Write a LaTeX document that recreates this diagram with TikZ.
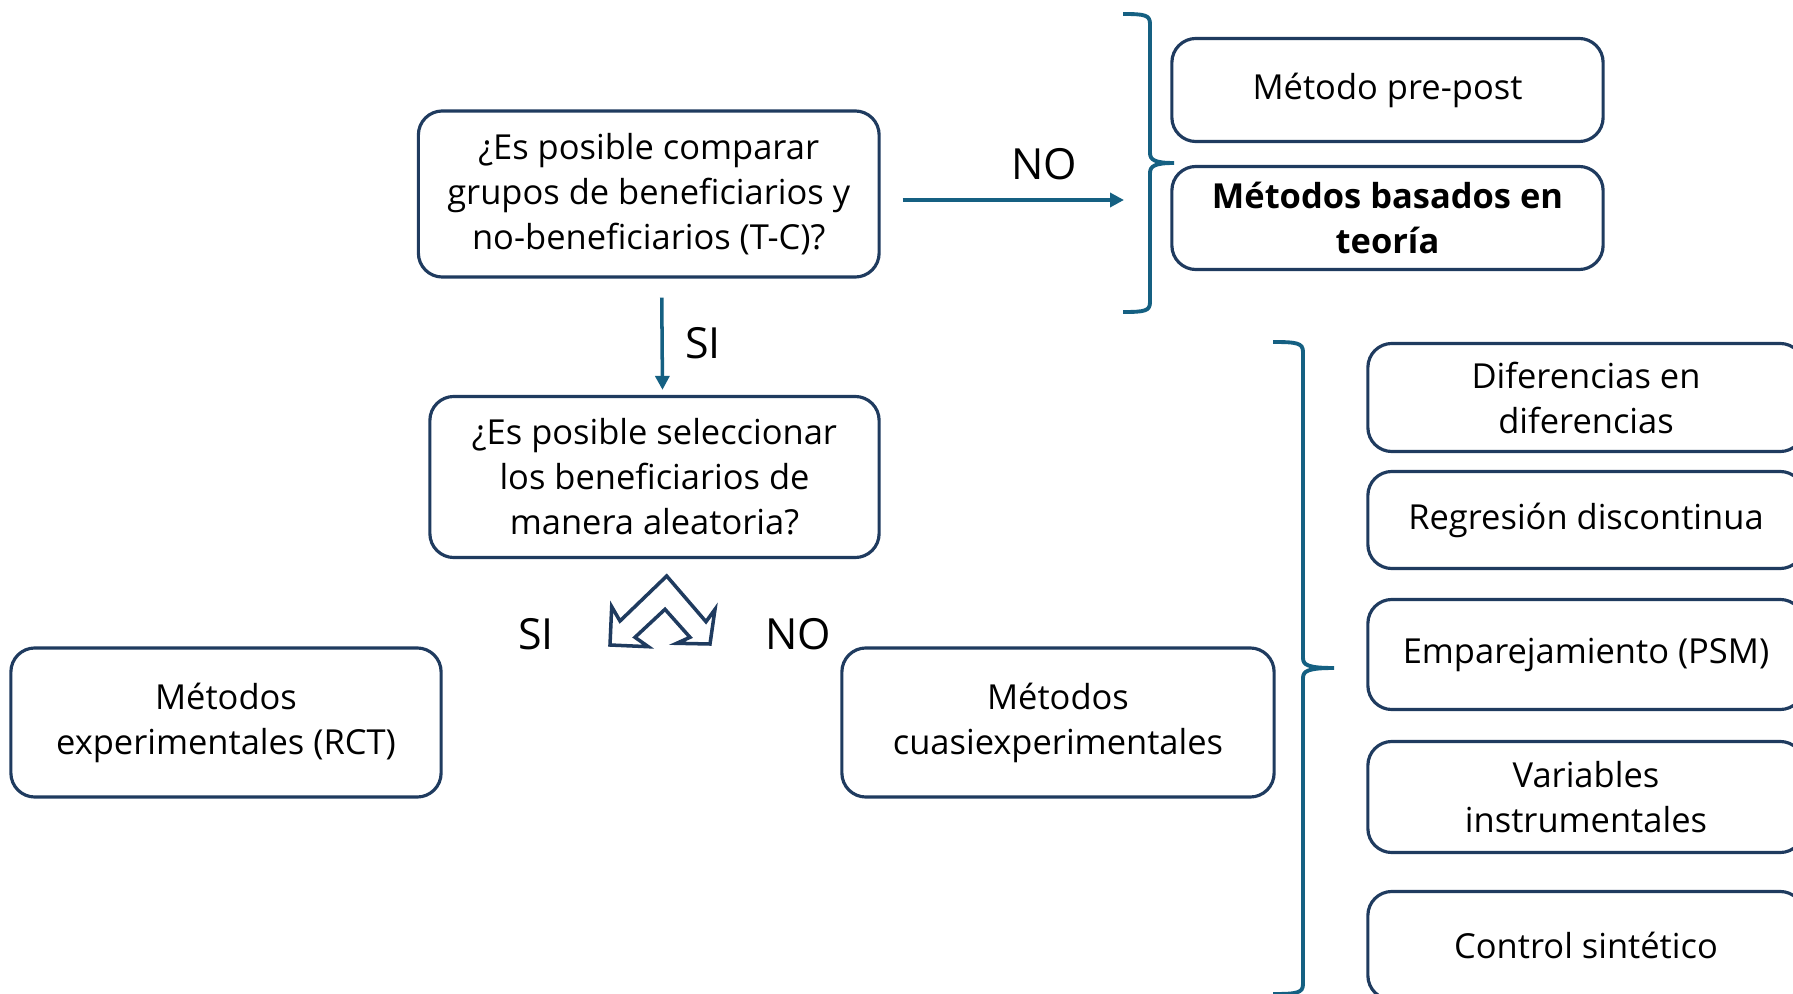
\documentclass[tikz,border=0pt]{standalone}
\usepackage{fontspec}
\setmainfont{Open Sans}
\usetikzlibrary{arrows.meta}
\definecolor{boxblue}{HTML}{1F3B5F}
\definecolor{arrblue}{HTML}{156082}
\begin{document}
\begin{tikzpicture}[x=0.01cm, y=-0.01cm]
\tikzstyle{box}=[draw=boxblue, line width=0.9pt, rounded corners=0.24cm, fill=white,
                 align=center, inner sep=0pt, font=\fontsize{9.8pt}{12.8pt}\selectfont]
\tikzstyle{lbl}=[inner sep=0pt, font=\fontsize{12.2pt}{14pt}\selectfont]
\tikzstyle{arr}=[draw=arrblue, line width=1pt, -{Triangle[length=0.14cm, width=0.14cm]}]
\tikzstyle{brc}=[draw=arrblue, line width=1.1pt]
\useasboundingbox (0,0) rectangle (1793,994);
	% questions
	\node[box, minimum width=4.605cm, minimum height=1.66cm] (q1) at (648.75,194)
		{¿Es posible comparar\\grupos de beneficiarios y\\no-beneficiarios (T-C)?};
	\node[box, minimum width=4.49cm, minimum height=1.61cm] (q2) at (654.5,477)
		{¿Es posible seleccionar\\los beneficiarios de\\manera aleatoria?};
	% results
	\node[box, minimum width=4.30cm, minimum height=1.49cm] (rct) at (226,722.5)
		{Métodos\\experimentales (RCT)};
	\node[box, minimum width=4.32cm, minimum height=1.49cm] (cuasi) at (1058,722.5)
		{Métodos\\cuasiexperimentales};
	\node[box, minimum width=4.31cm, minimum height=1.03cm] (pp) at (1387.5,90)
		{Método pre-post};
	\node[box, minimum width=4.31cm, minimum height=1.03cm] (teo) at (1387.5,218)
		{\textbf{Métodos basados en}\\\textbf{teoría}};
\foreach \n/\y/\h/\t in {d1/397.5/1.08/{Diferencias en\\diferencias},d2/520/0.97/{Regresión discontinua},
	d3/654.5/1.10/{Emparejamiento (PSM)},d4/797/1.11/{Variables\\instrumentales},d5/945.5/1.08/{Control sintético}}{
	\node[box, minimum width=4.36cm, minimum height=\h cm] (\n) at (1586,\y) {\t};}

	% connectors
	\coordinate (nobr) at (1124,200);
	\draw[arr] ([shift={(22,6)}]q1.east) -- (nobr);
	\draw[arr] ([shift={(13,19)}]q1.south) -- ([shift={(8,-5)}]q2.north);
	\node[lbl] (no1) at (1044,164) {NO};
	\node[lbl] (si1) at (703,343) {SI};
	\node[lbl] (si2) at (536,634) {SI};
	\node[lbl] (no2) at (798,634) {NO};

	% split arrow
	\draw[draw=boxblue, line width=1pt, fill=white, line join=miter]
		(666.7,576) -- (706,621.7) -- (715,609.3) -- (710,644) -- (676.7,643.3) -- (690,637.3)
		-- (665,609.3) -- (635,637.3) -- (648.3,646.7) -- (610,645) -- (611.7,606.7) -- (620,621) -- cycle;

	% braces
	\draw[brc] (1123,14) .. controls (1145,14) and (1150,15) .. (1150,24) -- (1150,153)
		.. controls (1150,160) and (1155,163) .. (1174,163)
		.. controls (1155,163) and (1150,166) .. (1150,173) -- (1150,302)
		.. controls (1150,311) and (1145,312) .. (1123,312);
	\draw[brc] (1273,342) .. controls (1297,342) and (1303,343) .. (1303,352) -- (1303,658)
		.. controls (1303,665) and (1308,668) .. (1334,668)
		.. controls (1308,668) and (1303,671) .. (1303,678) -- (1303,984)
		.. controls (1303,993) and (1297,994) .. (1273,994);
\end{tikzpicture}
\end{document}
